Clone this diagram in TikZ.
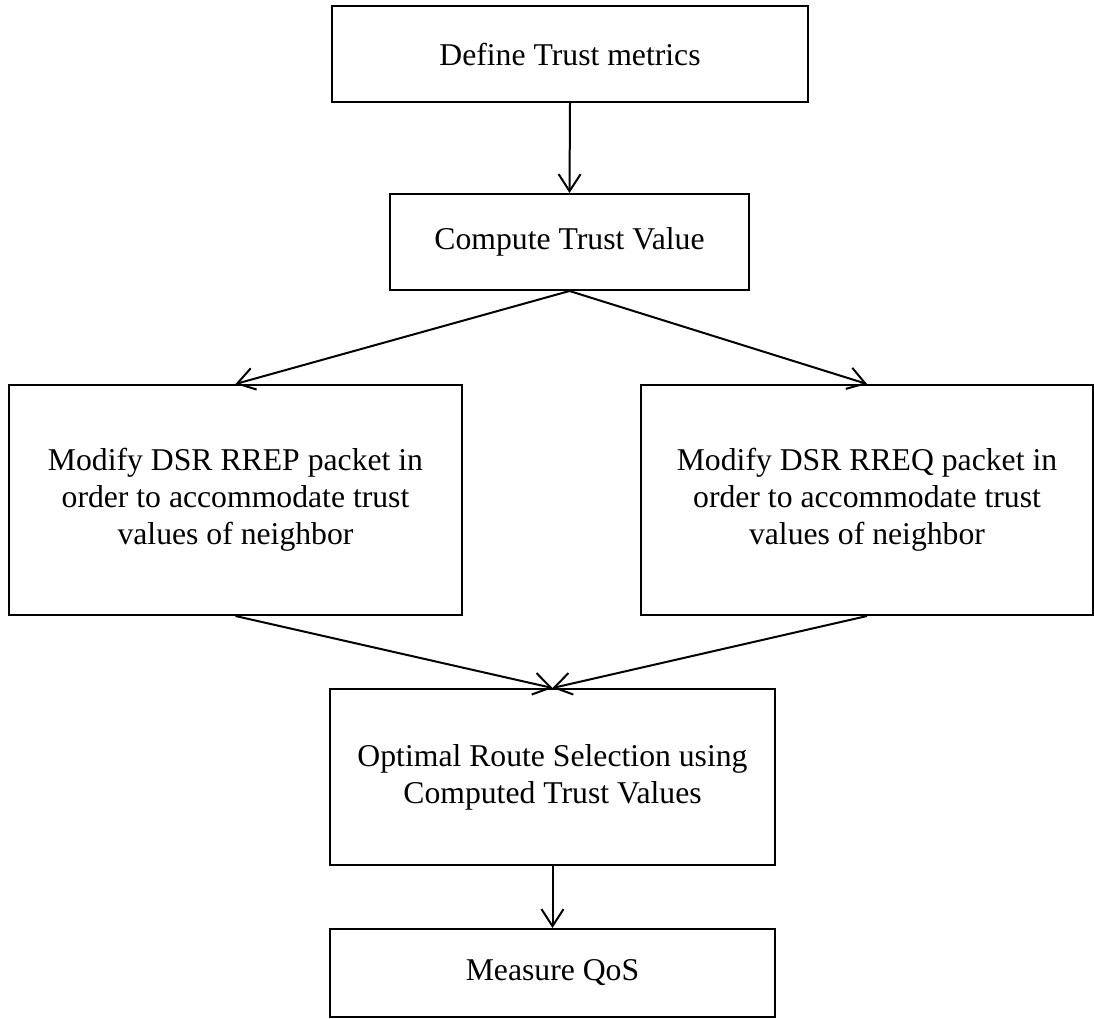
\documentclass[tikz,border=0pt]{standalone}
\usepackage{fontspec}
\setmainfont{Liberation Serif}
\usetikzlibrary{arrows.meta}
\begin{document}
\begin{tikzpicture}[x=1pt,y=-1pt,
  box/.style={draw, line width=2pt, rectangle, inner sep=0pt, align=center,
    font=\fontsize{31.7}{37}\selectfont},
  flow/.style={line width=2pt, -{Straight Barb[length=17pt,width=22pt,line width=2pt]}}]
  \useasboundingbox (0,0) rectangle (1094,1019);
  \node[box, minimum width=476pt, minimum height=96pt] (b1) at (570,54) {Define Trust metrics};
  \node[box, minimum width=359pt, minimum height=96pt] (b2) at (569.5,242) {Compute Trust Value};
  \node[box, minimum width=453pt, minimum height=230pt] (b3) at (235.5,500)
    {Modify DSR RREP packet in\\order to accommodate trust\\values of neighbor};
  \node[box, minimum width=452pt, minimum height=230pt] (b4) at (867,500)
    {Modify DSR RREQ packet in\\order to accommodate trust\\values of neighbor};
  \node[box, minimum width=445pt, minimum height=176pt] (b5) at (552.5,777)
    {Optimal Route Selection using\\Computed Trust Values};
  \node[box, minimum width=445pt, minimum height=88pt] (b6) at (552.5,973) {Measure QoS};
  \draw[flow] (b1.south) -- (b2.north);
  \draw[flow] (b2.south) -- (b3.north);
  \draw[flow] (b2.south) -- (b4.north);
  \draw[flow] (b3.south) -- (b5.north);
  \draw[flow] (b4.south) -- (b5.north);
  \draw[flow] (b5.south) -- (b6.north);
\end{tikzpicture}
\end{document}
